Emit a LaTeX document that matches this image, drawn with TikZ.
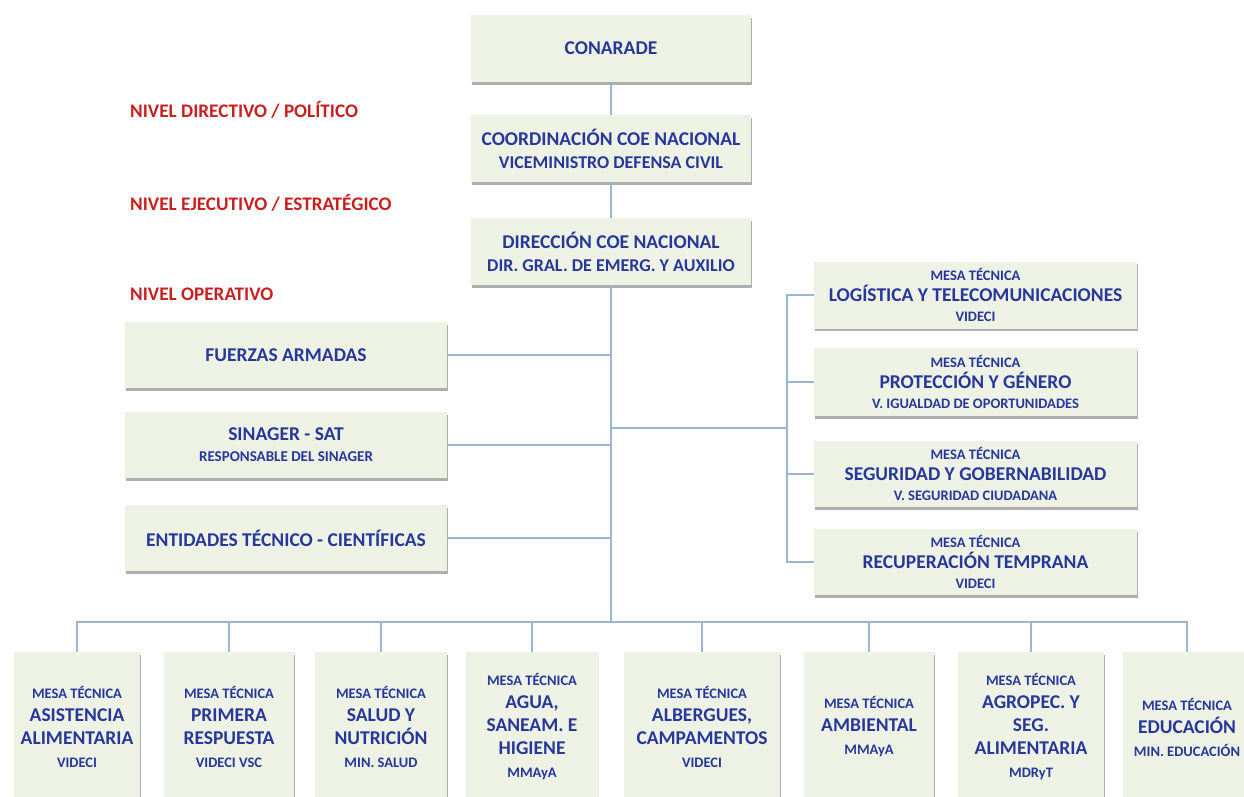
\documentclass[tikz,border=0pt]{standalone}
\usepackage{fontspec}
\setmainfont{Carlito}
\usetikzlibrary{shadows}
\definecolor{boxfill}{HTML}{EEF2E5}
\definecolor{txtblue}{HTML}{27379A}
\definecolor{lvlred}{HTML}{C8201E}
\definecolor{linkblue}{HTML}{9DB4D3}
\newcommand{\szA}[1]{{\fontsize{14.5}{16}\selectfont #1}}
\newcommand{\szB}[1]{{\fontsize{18}{19}\selectfont #1}}
\newcommand{\szC}[1]{{\fontsize{15}{16}\selectfont #1}}
\tikzset{
  orgbox/.style={fill=boxfill, draw=none, inner sep=0pt, align=center, text=txtblue,
    font=\bfseries\fontsize{19.5}{22}\selectfont,
    drop shadow={shadow xshift=0.6pt, shadow yshift=-2.6pt, fill=black!45, opacity=0.7}},
  mesabox/.style={orgbox, font=\bfseries\fontsize{19.5}{20.5}\selectfont},
  botbox/.style={orgbox, font=\bfseries\fontsize{19.5}{23}\selectfont},
  lvl/.style={anchor=west, inner sep=0pt, text=lvlred, font=\bfseries\fontsize{19.2}{20}\selectfont},
  link/.style={draw=linkblue, line width=2pt}
}
\begin{document}
\begin{tikzpicture}[x=1pt,y=-1pt]
\useasboundingbox (0,0) rectangle (1244,797);
% top chain
\node[orgbox, minimum width=280pt, minimum height=67pt] (conarade) at (611,48.5) {CONARADE};
\node[orgbox, minimum width=280pt, minimum height=67pt, font=\bfseries\fontsize{19.5}{23}\selectfont] (coord) at (611,148.5)
  {COORDINACIÓN COE NACIONAL\\\szB{VICEMINISTRO DEFENSA CIVIL}};
\node[orgbox, minimum width=280pt, minimum height=67pt, font=\bfseries\fontsize{19.5}{23}\selectfont] (direc) at (611,251.5)
  {DIRECCIÓN COE NACIONAL\\\szB{DIR. GRAL. DE EMERG. Y AUXILIO}};
% level labels
\node[lvl] (l1) at (130,110) {NIVEL DIRECTIVO / POLÍTICO};
\node[lvl] (l2) at (130,203) {NIVEL EJECUTIVO / ESTRATÉGICO};
\node[lvl] (l3) at (130,294) {NIVEL OPERATIVO};
% left boxes
\node[orgbox, minimum width=322pt, minimum height=66pt] (ffaa) at (286,355) {FUERZAS ARMADAS};
\node[orgbox, minimum width=322pt, minimum height=66pt, font=\bfseries\fontsize{19.5}{21}\selectfont] (sinager) at (286,445)
  {SINAGER - SAT\\\szC{RESPONSABLE DEL SINAGER}};
\node[orgbox, minimum width=322pt, minimum height=66pt] (entid) at (286,538) {ENTIDADES TÉCNICO - CIENTÍFICAS};
% right boxes
\node[mesabox, minimum width=323pt, minimum height=67pt] (logis) at (975.5,295)
  {\szA{MESA TÉCNICA}\\LOGÍSTICA Y TELECOMUNICACIONES\\\szA{VIDECI}};
\node[mesabox, minimum width=323pt, minimum height=68pt] (prot) at (975.5,382)
  {\szA{MESA TÉCNICA}\\PROTECCIÓN Y GÉNERO\\\szA{V. IGUALDAD DE OPORTUNIDADES}};
\node[mesabox, minimum width=323pt, minimum height=66pt] (segur) at (975.5,474)
  {\szA{MESA TÉCNICA}\\SEGURIDAD Y GOBERNABILIDAD\\\szA{V. SEGURIDAD CIUDADANA}};
\node[mesabox, minimum width=323pt, minimum height=66pt] (recup) at (975.5,562)
  {\szA{MESA TÉCNICA}\\RECUPERACIÓN TEMPRANA\\\szA{VIDECI}};
% bottom boxes
\node[botbox, minimum width=126pt, minimum height=150pt] (b1) at (77,727)
  {\szA{MESA TÉCNICA}\\ASISTENCIA\\ALIMENTARIA\\\szA{VIDECI}};
\node[botbox, minimum width=130pt, minimum height=150pt] (b2) at (229,727)
  {\szA{MESA TÉCNICA}\\PRIMERA\\RESPUESTA\\\szA{VIDECI VSC}};
\node[botbox, minimum width=132pt, minimum height=150pt] (b3) at (381,727)
  {\szA{MESA TÉCNICA}\\SALUD Y\\NUTRICIÓN\\\szA{MIN. SALUD}};
\node[botbox, minimum width=133pt, minimum height=150pt] (b4) at (532,727)
  {\szA{MESA TÉCNICA}\\AGUA,\\SANEAM. E\\HIGIENE\\\szA{MMAyA}};
\node[botbox, minimum width=156pt, minimum height=150pt] (b5) at (702,727)
  {\szA{MESA TÉCNICA}\\ALBERGUES,\\CAMPAMENTOS\\\szA{VIDECI}};
\node[botbox, minimum width=130pt, minimum height=150pt] (b6) at (869,727)
  {\szA{MESA TÉCNICA}\\AMBIENTAL\\\szA{MMAyA}};
\node[botbox, minimum width=146pt, minimum height=150pt] (b7) at (1031,727)
  {\szA{MESA TÉCNICA}\\AGROPEC. Y\\SEG.\\ALIMENTARIA\\\szA{MDRyT}};
\node[botbox, minimum width=128pt, minimum height=150pt] (b8) at (1187,727)
  {\szA{MESA TÉCNICA}\\EDUCACIÓN\\\szA{MIN. EDUCACIÓN}};
% connectors
\coordinate (bus) at (611,622);
\coordinate (rj) at (787,428);
\draw[link] (conarade) -- (coord);
\draw[link] (coord) -- (direc);
\draw[link] (direc.south) -- (bus);
\draw[link] (ffaa.east) -- (ffaa.east -| bus);
\draw[link] (sinager.east) -- (sinager.east -| bus);
\draw[link] (entid.east) -- (entid.east -| bus);
\draw[link] (rj -| bus) -- (rj);
\draw[link] (rj) |- (logis.west);
\draw[link] (rj) |- (prot.west);
\draw[link] (rj) |- (segur.west);
\draw[link] (rj) |- (recup.west);
\foreach \b in {b1,b2,b3,b4,b5,b6,b7,b8}{\draw[link] (bus) -| (\b.north);}
\end{tikzpicture}
\end{document}
